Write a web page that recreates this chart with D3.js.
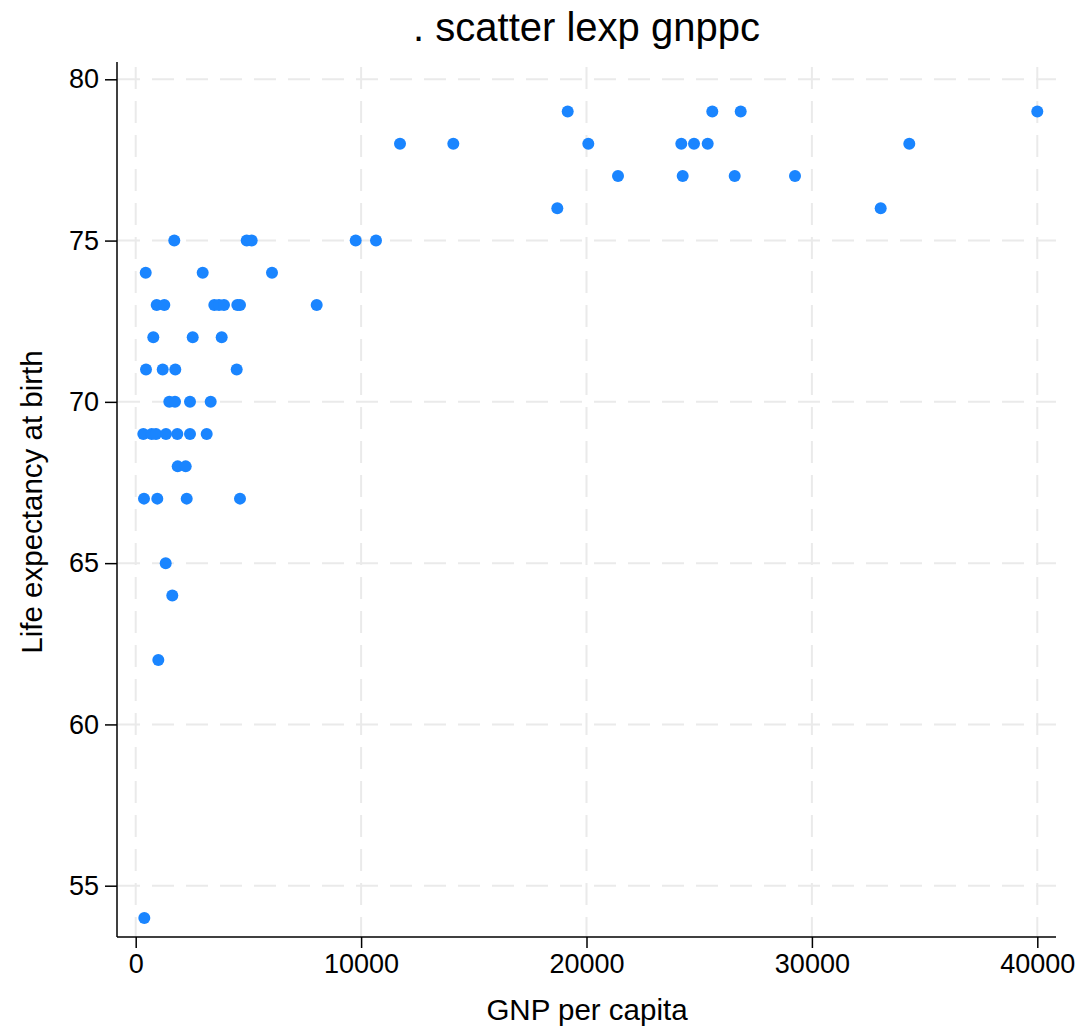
<!DOCTYPE html>
<html>
<head>
<meta charset="utf-8">
<script src="https://cdn.jsdelivr.net/npm/d3@7"></script>
<style>
  body { margin: 0; background: #fff; }
  svg { display: block; font-family: "Liberation Sans", Arial, sans-serif; }
  .grid line { stroke: #eaeaea; stroke-width: 2; stroke-dasharray: 22 12; }
  .axis path, .axis line { stroke: #000; stroke-width: 1.5; }
  .axis text { font-size: 27px; fill: #000; }
</style>
</head>
<body>
<svg width="1081" height="1027"></svg>
<script>

// GNP per capita and life expectancy at birth
var gnppc = [
  1712, 4925, 5146, 9760, 10661,
  444, 2972, 6047,
  932, 1269, 3487, 3696, 3917, 4508, 4627, 8030,
  781, 2529, 3815,
  457, 1198, 1757, 4481,
  1491, 1744, 2409, 3327,
  337, 710, 901, 1344, 1846, 2409, 3150,
  1863, 2218,
  368, 958, 2263, 4627,
  1331, 1624, 1003, 382,
  11726, 14091, 20080, 24206, 24770, 25377, 34321,
  19166, 25581, 26841, 40000,
  21398, 24268, 26575, 29250,
  18705, 33052
];
var lexp = [
  75, 75, 75, 75, 75,
  74, 74, 74,
  73, 73, 73, 73, 73, 73, 73, 73,
  72, 72, 72,
  71, 71, 71, 71,
  70, 70, 70, 70,
  69, 69, 69, 69, 69, 69, 69,
  68, 68,
  67, 67, 67, 67,
  65, 64, 62, 54,
  78, 78, 78, 78, 78, 78, 78,
  79, 79, 79, 79,
  77, 77, 77, 77,
  76, 76
];
var xTicks = [0, 10000, 20000, 30000, 40000];
var yTicks = [55, 60, 65, 70, 75, 80];

var svg = d3.select("svg"),
    plot = {left: 117, right: 1056, top: 67, bottom: 937};

var x = d3.scaleLinear().domain([0, 40000]).range([135.7, 1037.3]);
var y = d3.scaleLinear().domain([55, 80]).range([885.7, 79.3]);

var data = gnppc.map(function(d, i) { return {x: d, y: lexp[i]}; });

// grid
var grid = svg.append("g").attr("class", "grid");
grid.selectAll(".gy")
    .data(yTicks)
  .enter().append("line")
    .attr("x1", plot.left + 1).attr("x2", plot.right)
    .attr("y1", function(d) { return y(d); })
    .attr("y2", function(d) { return y(d); });
grid.selectAll(".gx")
    .data(xTicks)
  .enter().append("line")
    .attr("y1", plot.top).attr("y2", plot.bottom)
    .attr("x1", function(d) { return x(d); })
    .attr("x2", function(d) { return x(d); });

// axes
svg.append("g")
    .attr("class", "axis axis--x")
    .attr("transform", "translate(0," + plot.bottom + ")")
    .call(d3.axisBottom(x).tickValues(xTicks).tickSize(11).tickPadding(6).tickSizeOuter(0).tickFormat(d3.format("d")))
  .select(".domain")
    .attr("d", "M" + plot.left + ",0H" + plot.right);

svg.append("g")
    .attr("class", "axis axis--y")
    .attr("transform", "translate(" + plot.left + ",0)")
    .call(d3.axisLeft(y).tickValues(yTicks).tickSize(12).tickPadding(6).tickSizeOuter(0))
  .select(".domain")
    .attr("d", "M0,62V" + plot.bottom);

// points
svg.append("g")
  .selectAll("circle")
    .data(data)
  .enter().append("circle")
    .attr("cx", function(d) { return x(d.x); })
    .attr("cy", function(d) { return y(d.y); })
    .attr("r", 6)
    .attr("fill", "#1a85ff");

// titles
svg.append("text")
    .attr("x", 586.5).attr("y", 41)
    .attr("text-anchor", "middle")
    .style("font-size", "40px")
    .text(". scatter lexp gnppc");

svg.append("text")
    .attr("x", 587).attr("y", 1020)
    .attr("text-anchor", "middle")
    .style("font-size", "29.5px")
    .text("GNP per capita");

svg.append("text")
    .attr("transform", "translate(42,502) rotate(-90)")
    .attr("text-anchor", "middle")
    .style("font-size", "29.5px")
    .text("Life expectancy at birth");
</script>
</body>
</html>
